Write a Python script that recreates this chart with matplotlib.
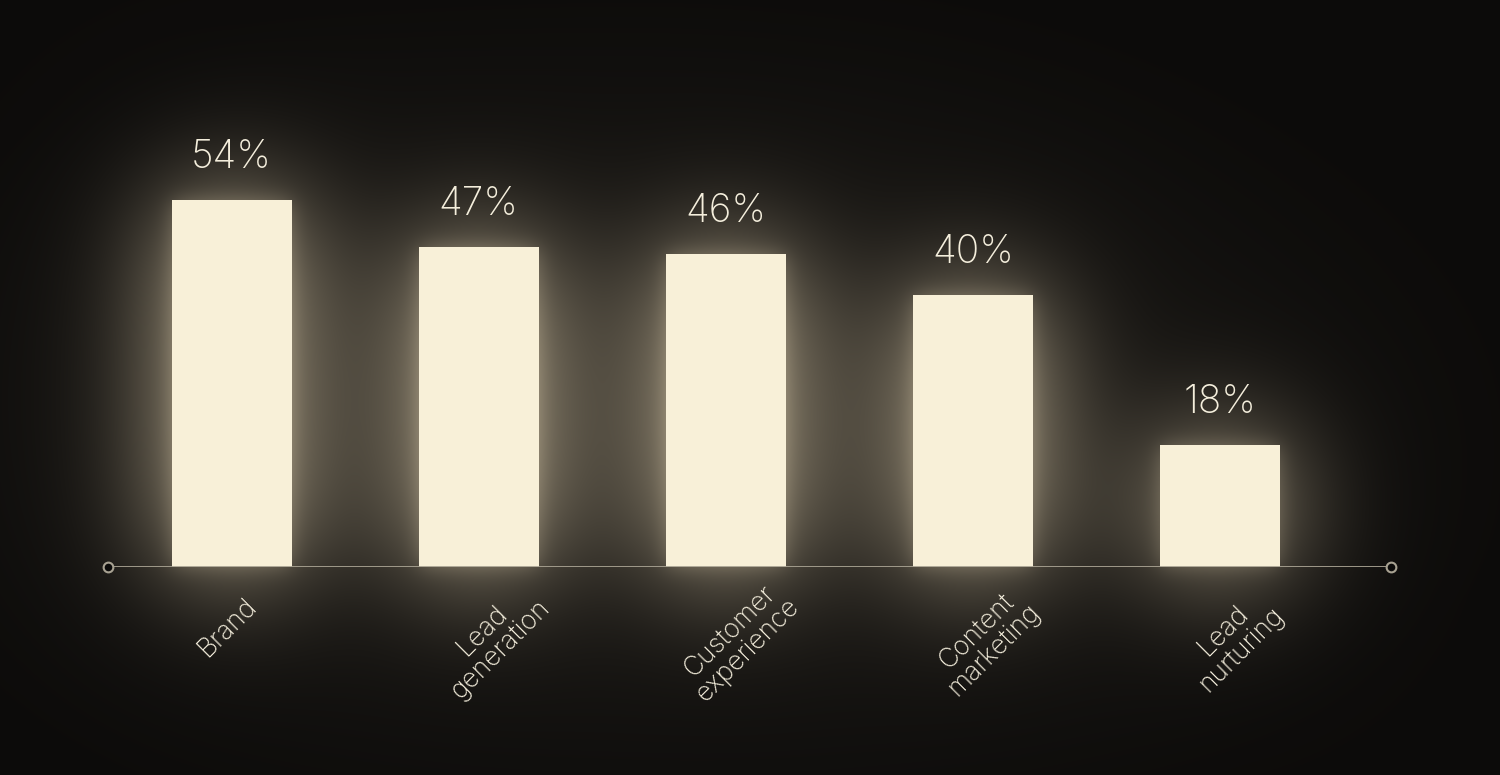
import numpy as np
import matplotlib.pyplot as plt

categories = ["Brand", "Lead\ngeneration", "Customer\nexperience", "Content\nmarketing", "Lead\nnurturing"]
values = [54, 47, 46, 40, 18]
value_labels = ["54%", "47%", "46%", "40%", "18%"]

BG = "#0c0b0a"
BAR = "#f8f0d8"
TEXT = "#f4eedc"
LINE = "#a8a292"
W, H = 1500, 775
AX_RECT = [108 / W, (H - 567) / H, (1391 - 108) / W, 408 / H]
BAR_W = 0.485

plt.rcParams['font.family'] = ['Inter', 'DejaVu Sans']


def make_axes(fig):
    ax = fig.add_axes(AX_RECT, zorder=1)
    ax.patch.set_alpha(0)
    ax.set_xlim(-0.5, 4.69)
    ax.set_ylim(0, 60)
    for s in ax.spines.values():
        s.set_visible(False)
    ax.set_xticks([])
    ax.set_yticks([])
    return ax


def blur(img, sigma):
    pad = int(4 * sigma)
    p = np.pad(img, pad)
    fy = np.fft.fftfreq(p.shape[0])[:, None]
    fx = np.fft.rfftfreq(p.shape[1])[None, :]
    k = np.exp(-2 * np.pi ** 2 * sigma ** 2 * (fx ** 2 + fy ** 2))
    out = np.fft.irfft2(np.fft.rfft2(p) * k, s=p.shape)
    return out[pad:-pad, pad:-pad]


x = np.arange(len(values))

# render the bars alone to get a mask for the glow
tmp = plt.figure(figsize=(W / 100, H / 100), dpi=100, facecolor='black')
tax = make_axes(tmp)
tax.bar(x, values, width=BAR_W, color='white', clip_on=False)
tmp.canvas.draw()
mask = np.asarray(tmp.canvas.buffer_rgba())[..., 0].astype(float) / 255
plt.close(tmp)

glow = 0.16 * blur(mask, 10) + 0.68 * blur(mask, 60) + 0.16 * blur(mask, 150)

yy, xx = np.mgrid[0:H, 0:W]
r = np.sqrt(((xx - 680) / 850) ** 2 + ((yy - 420) / 460) ** 2)
haze = 0.045 * np.clip(1 - r, 0, 1)

base = np.array([12, 11, 10]) / 255
warm = np.array([1.0, 0.93, 0.78])
img = np.clip(base + (glow + haze)[..., None] * warm, 0, 1)

fig = plt.figure(figsize=(W / 100, H / 100), dpi=100, facecolor=BG)
bg = fig.add_axes([0, 0, 1, 1], zorder=0)
bg.imshow(img, extent=[0, W, H, 0], aspect='auto', interpolation='bilinear')
bg.axis('off')

ax = make_axes(fig)
ax.bar(x, values, width=BAR_W, color=BAR, zorder=3, clip_on=False)

ax.axhline(0, color=LINE, lw=1.3, zorder=4)
ax.plot([0, 1], [0, 0], transform=ax.transAxes, marker='o', ls='none', ms=7,
        mfc=BG, mec=LINE, mew=1.5, clip_on=False, zorder=5)

for xi, v, lbl in zip(x, values, value_labels):
    ax.annotate(lbl, (xi, v), xytext=(0, 23), textcoords='offset points',
                ha='center', va='baseline', fontsize=28, color=TEXT,
                fontweight='light', zorder=6)

for xi, cat in zip(x, categories):
    two = '\n' in cat
    off = (9, -53) if two else (-3, -44)
    ax.annotate(cat, (xi, 0), xytext=off, textcoords='offset points',
                ha='center', va='center', rotation=45, rotation_mode='anchor',
                multialignment='center', fontsize=19, color=TEXT,
                fontweight='light', linespacing=1.0, zorder=6)

fig.savefig('out.png', dpi=100, facecolor=BG)
